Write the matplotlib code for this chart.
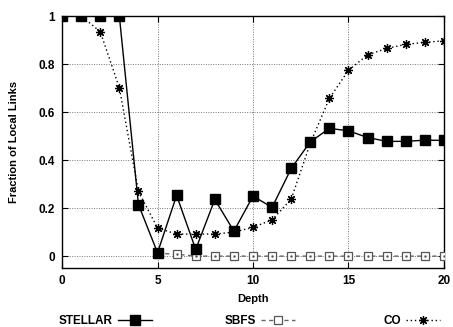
import matplotlib.pyplot as plt

depth = list(range(21))
stellar = [1, 1, 1, 1, 0.215, 0.014, 0.253, 0.028, 0.236, 0.104, 0.25,
           0.203, 0.365, 0.476, 0.532, 0.522, 0.494, 0.478, 0.478, 0.483, 0.482]
sbfs_depth = list(range(5, 21))
sbfs = [0.012, 0.008] + [0] * 14
co = [1, 1, 0.935, 0.701, 0.27, 0.117, 0.092, 0.092, 0.092, 0.1, 0.12,
      0.151, 0.237, 0.47, 0.657, 0.774, 0.838, 0.865, 0.882, 0.89, 0.897]

plt.rcParams['font.family'] = ['Liberation Sans', 'DejaVu Sans']
plt.rcParams['font.weight'] = 'bold'

fig = plt.figure(figsize=(4.53, 3.27), dpi=100)
ax = fig.add_axes([0.137, 0.180, 0.843, 0.771])

# lines
l1, = ax.plot(depth, stellar, color='black', lw=1.0, marker='s', markersize=7,
              label='STELLAR', zorder=4)
l2, = ax.plot(sbfs_depth, sbfs, color='#666666', lw=1.0, ls=(0, (3, 2.5)),
              marker='s', markersize=5.5, mfc='white', mec='#555555', mew=0.9,
              label='SBFS', zorder=3)
ax.plot(sbfs_depth, sbfs, ls='none', marker='.', markersize=1.5,
        color='#555555', zorder=3)
l3, = ax.plot(depth, co, color='black', lw=1.0, ls=(0, (1, 2)),
              marker=(8, 2, 0), markersize=6.5, mew=0.9, label='CO', zorder=3)

ax.set_xlim(0, 20)
ax.set_ylim(-0.05, 1)
ax.set_xticks([0, 5, 10, 15, 20])
ax.set_yticks([0, 0.2, 0.4, 0.6, 0.8, 1])
ax.set_yticklabels(['0', '0.2', '0.4', '0.6', '0.8', '1'])
ax.tick_params(direction='in', top=True, right=True, labelsize=8.5, length=4, pad=5)
ax.grid(True, color='#777777', ls=(0, (1, 1.5)), lw=0.7)
for s in ax.spines.values():
    s.set_linewidth(1.0)

ax.set_xlabel('Depth', fontsize=8, fontweight='bold', labelpad=5)
ax.set_ylabel('Fraction of Local Links', fontsize=8, fontweight='bold', labelpad=14)

# gnuplot-style legend: text then sample, right-aligned columns
ends = [152, 295, 440]
for h, xe in zip([l1, l2, l3], ends):
    fig.legend(handles=[h], loc='lower right',
               bbox_to_anchor=(xe / 453, 0.0), frameon=False,
               markerfirst=False, fontsize=8.5, handlelength=2.9,
               handletextpad=0.4, borderpad=0, borderaxespad=0)

fig.savefig('out.png', dpi=100)
